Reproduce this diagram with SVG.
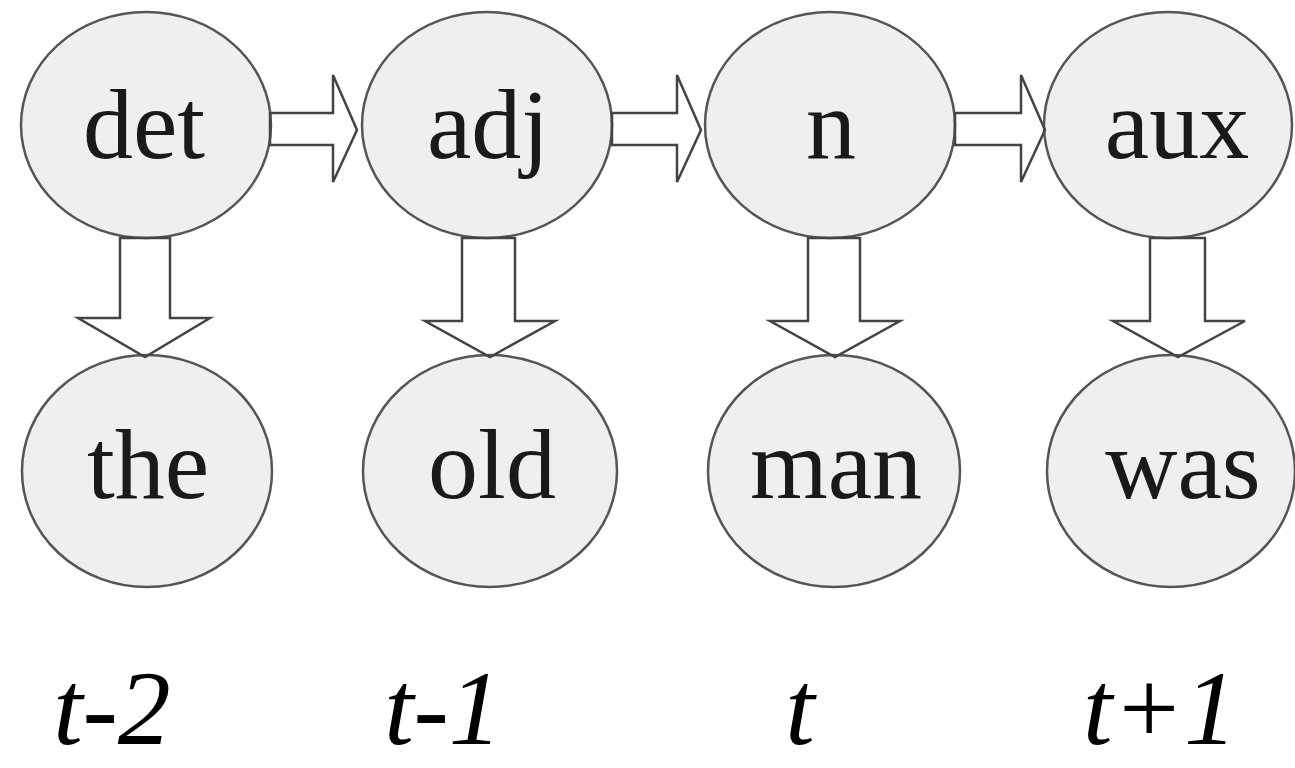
<svg xmlns="http://www.w3.org/2000/svg" width="1295" height="768" viewBox="0 0 1295 768">
<style>
.n ellipse{fill:#efefef;stroke:#555;stroke-width:2.5}
.n text{font-family:"Liberation Serif","Times New Roman",serif;font-size:100px;fill:#1a1a1a;text-anchor:middle}
.a{fill:none;stroke:#444;stroke-width:2.5;stroke-linejoin:miter}
.t{font-family:"Liberation Serif","Times New Roman",serif;font-style:italic;font-size:106px;fill:#000;text-anchor:middle}
</style>
<rect width="1295" height="768" fill="#fff"/>
<g id="det" class="n"><ellipse cx="146" cy="125" rx="125" ry="113"/><text x="144" y="158">det</text></g>
<g id="adj" class="n"><ellipse cx="487" cy="125" rx="125" ry="113"/><text x="488" y="158">adj</text></g>
<g id="n" class="n"><ellipse cx="830" cy="125" rx="125" ry="113"/><text x="831" y="158">n</text></g>
<g id="aux" class="n"><ellipse cx="1168" cy="125" rx="124" ry="113"/><text x="1177" y="158">aux</text></g>
<g id="the" class="n"><ellipse cx="147" cy="471" rx="125" ry="116"/><text x="148" y="498">the</text></g>
<g id="old" class="n"><ellipse cx="490" cy="471" rx="127" ry="116"/><text x="492" y="498">old</text></g>
<g id="man" class="n"><ellipse cx="834" cy="471" rx="126" ry="116"/><text x="836" y="498">man</text></g>
<g id="was" class="n"><ellipse cx="1171" cy="471" rx="124" ry="116"/><text x="1183" y="498">was</text></g>
<g id="connectors">
<polygon class="a" points="270,113 333,113 333,75 357,130 333,182 333,145 270,145"/>
<polygon class="a" points="612,113 677,113 677,75 701,130 677,182 677,145 612,145"/>
<polygon class="a" points="955,113 1021,113 1021,75 1045,130 1021,182 1021,145 955,145"/>
<polygon class="a" points="120,238 120,318 78,318 145,357 210,318 170,318 170,238"/>
<polygon class="a" points="462,238 462,321 425,321 490,357 555,321 515,321 515,238"/>
<polygon class="a" points="808,238 808,321 770,321 835,357 900,321 860,321 860,238"/>
<polygon class="a" points="1150,238 1150,321 1113,321 1178,357 1245,321 1205,321 1205,238"/>
</g>
<g id="labels">
<text class="t" x="112" y="744">t-2</text>
<text class="t" x="443" y="744">t-1</text>
<text class="t" x="800" y="744">t</text>
<text class="t" x="1160" y="744">t+1</text>
</g>
</svg>
